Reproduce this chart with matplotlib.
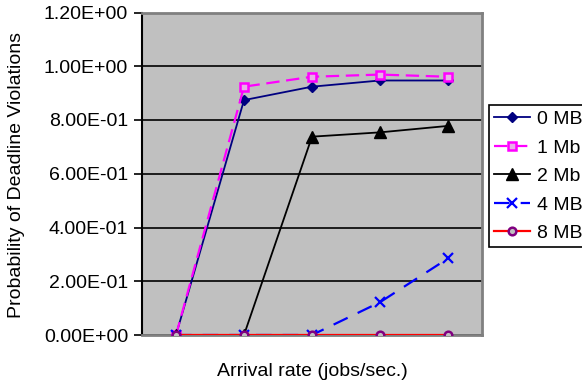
import matplotlib.pyplot as plt
import numpy as np

plt.rcParams['font.family'] = ['Liberation Sans', 'DejaVu Sans']

# five arrival rates, no labels shown on the category axis
rates = np.arange(5)
mb0 = [0.0, 0.874, 0.924, 0.947, 0.947]
mb1 = [0.0, 0.924, 0.961, 0.969, 0.961]
mb2 = [0.0, 0.0, 0.738, 0.754, 0.778]
mb4 = [0.0, 0.0, 0.0, 0.122, 0.285]
mb8 = [0.0, 0.0, 0.0, 0.0, 0.0]
y_ticks = [0.0, 0.2, 0.4, 0.6, 0.8, 1.0, 1.2]

fs = 14

fig = plt.figure(figsize=(5.82, 3.84), dpi=100)
ax = fig.add_axes([142 / 582, 49 / 384, 340 / 582, 322.5 / 384])
ax.set_facecolor('#C0C0C0')

ax.plot(rates, mb0, color='#000080', lw=1.3, marker='D', ms=5.5,
        mfc='#000080', mec='#000080', label='0 MB', zorder=3)
ax.plot(rates, mb1, color='#FF00FF', lw=1.6, ls=(0, (6, 3)), marker='s', ms=6,
        mfc='#E8B0E8', mec='#FF00FF', mew=1.8, label='1 Mb', zorder=3)
ax.plot(rates, mb2, color='black', lw=1.3, marker='^', ms=8,
        mfc='black', mec='black', label='2 Mb', zorder=3)
ax.plot(rates, mb4, color='#0000FF', lw=1.6, ls=(0, (7, 5)), marker='x', ms=6.5,
        mew=1.6, label='4 MB', zorder=3)
ax.plot(rates, mb8, color='#FF0000', lw=1.6, marker='o', ms=5.5,
        mfc='#C0C0C0', mec='#800080', mew=1.8, label='8 MB', zorder=3)

ax.set_xlim(-0.5, 4.5)
ax.set_ylim(0, 1.2)
ax.set_yticks(y_ticks)
ax.set_yticklabels(['%.2E' % v for v in y_ticks], fontsize=fs)
ax.set_xticks([])
ax.yaxis.grid(True, color='black', lw=1.2)
ax.set_axisbelow(True)
ax.tick_params(axis='y', direction='out', length=6, width=1.2, pad=4)

for side in ['top', 'right', 'bottom']:
    ax.spines[side].set_color('#808080')
    ax.spines[side].set_linewidth(2)
ax.spines['left'].set_color('black')
ax.spines['left'].set_linewidth(1.5)

fig.text(312 / 582, 1 - 371 / 384, 'Arrival rate (jobs/sec.)',
         ha='center', va='center', fontsize=fs)
fig.text(17 / 582, 1 - 175 / 384, 'Probability of Deadline Violations',
         rotation=90, ha='center', va='center', fontsize=fs)

leg = fig.legend(loc='upper left', bbox_to_anchor=(489 / 582, 1 - 105 / 384),
                 borderaxespad=0, fontsize=fs, handlelength=1.85,
                 handletextpad=0.35, labelspacing=0.56, borderpad=0.28,
                 fancybox=False, framealpha=1)
leg.get_frame().set_edgecolor('black')
leg.get_frame().set_linewidth(1.2)

fig.savefig('out.png', dpi=100)
